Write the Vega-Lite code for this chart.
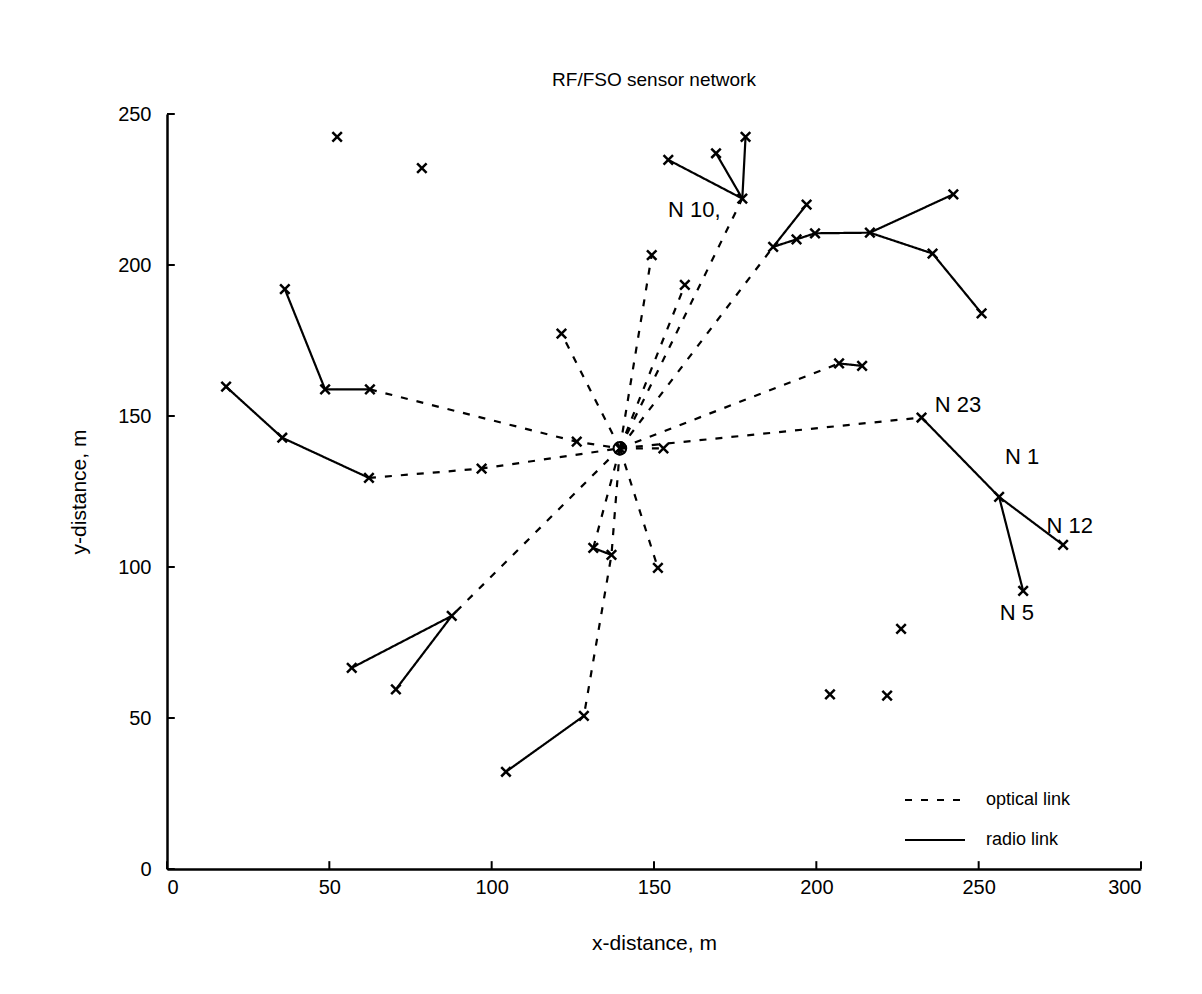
{
  "$schema": "https://vega.github.io/schema/vega-lite/v6.json",
  "width": 974,
  "height": 755,
  "autosize": {"type": "none"},
  "padding": {"left": 167, "top": 114, "right": 61, "bottom": 125},
  "background": "white",
  "title": {"text": "RF/FSO sensor network", "anchor": "middle", "fontSize": 19, "fontWeight": "normal", "color": "black", "offset": 14},
  "config": {
    "view": {"stroke": null},
    "axis": {
      "domainColor": "black", "domainWidth": 2.5, "ticks": false,
      "labelPadding": 10, "labelFontSize": 20, "labelColor": "black", "titleFontSize": 21, "titleFontWeight": "normal", "titleColor": "black", "grid": false
    }
  },
  "datasets": {
    "links": [
      {"s":"r1","t":"radio link","i":0,"x":36.3,"y":192.0},
      {"s":"r1","t":"radio link","i":1,"x":48.7,"y":158.8},
      {"s":"r1","t":"radio link","i":2,"x":62.5,"y":158.8},
      {"s":"r2","t":"radio link","i":0,"x":18.2,"y":159.7},
      {"s":"r2","t":"radio link","i":1,"x":35.5,"y":142.8},
      {"s":"r2","t":"radio link","i":2,"x":62.2,"y":129.5},
      {"s":"r3","t":"radio link","i":0,"x":177.2,"y":222.0},
      {"s":"r3","t":"radio link","i":1,"x":154.4,"y":234.8},
      {"s":"r4","t":"radio link","i":0,"x":177.2,"y":222.0},
      {"s":"r4","t":"radio link","i":1,"x":169.1,"y":237.0},
      {"s":"r5","t":"radio link","i":0,"x":177.2,"y":222.0},
      {"s":"r5","t":"radio link","i":1,"x":178.2,"y":242.4},
      {"s":"r6","t":"radio link","i":0,"x":186.7,"y":206.0},
      {"s":"r6","t":"radio link","i":1,"x":197.0,"y":220.0},
      {"s":"r7","t":"radio link","i":0,"x":186.7,"y":206.0},
      {"s":"r7","t":"radio link","i":1,"x":193.9,"y":208.5},
      {"s":"r7","t":"radio link","i":2,"x":199.6,"y":210.5},
      {"s":"r7","t":"radio link","i":3,"x":216.5,"y":210.7},
      {"s":"r8","t":"radio link","i":0,"x":216.5,"y":210.7},
      {"s":"r8","t":"radio link","i":1,"x":242.2,"y":223.4},
      {"s":"r9","t":"radio link","i":0,"x":216.5,"y":210.7},
      {"s":"r9","t":"radio link","i":1,"x":235.8,"y":203.8},
      {"s":"r9","t":"radio link","i":2,"x":250.9,"y":184.0},
      {"s":"r10","t":"radio link","i":0,"x":207.0,"y":167.4},
      {"s":"r10","t":"radio link","i":1,"x":214.1,"y":166.6},
      {"s":"r11","t":"radio link","i":0,"x":232.4,"y":149.5},
      {"s":"r11","t":"radio link","i":1,"x":256.3,"y":123.2},
      {"s":"r11","t":"radio link","i":2,"x":276.0,"y":107.3},
      {"s":"r12","t":"radio link","i":0,"x":256.3,"y":123.2},
      {"s":"r12","t":"radio link","i":1,"x":263.7,"y":92.1},
      {"s":"r13","t":"radio link","i":0,"x":87.7,"y":83.8},
      {"s":"r13","t":"radio link","i":1,"x":56.9,"y":66.6},
      {"s":"r14","t":"radio link","i":0,"x":87.7,"y":83.8},
      {"s":"r14","t":"radio link","i":1,"x":70.5,"y":59.5},
      {"s":"r15","t":"radio link","i":0,"x":128.4,"y":50.7},
      {"s":"r15","t":"radio link","i":1,"x":104.4,"y":32.2},
      {"s":"r16","t":"radio link","i":0,"x":131.3,"y":106.3},
      {"s":"r16","t":"radio link","i":1,"x":136.9,"y":104.0},
      {"s":"o1","t":"optical link","i":0,"x":62.5,"y":158.8},
      {"s":"o1","t":"optical link","i":1,"x":126.2,"y":141.5},
      {"s":"o1","t":"optical link","i":2,"x":139.5,"y":139.3},
      {"s":"o3","t":"optical link","i":0,"x":62.2,"y":129.5},
      {"s":"o3","t":"optical link","i":1,"x":96.9,"y":132.6},
      {"s":"o3","t":"optical link","i":2,"x":139.5,"y":139.3},
      {"s":"o4","t":"optical link","i":0,"x":139.5,"y":139.3},
      {"s":"o4","t":"optical link","i":1,"x":121.5,"y":177.3},
      {"s":"o5","t":"optical link","i":0,"x":139.5,"y":139.3},
      {"s":"o5","t":"optical link","i":1,"x":149.3,"y":203.3},
      {"s":"o6","t":"optical link","i":0,"x":139.5,"y":139.3},
      {"s":"o6","t":"optical link","i":1,"x":159.5,"y":193.4},
      {"s":"o7","t":"optical link","i":0,"x":139.5,"y":139.3},
      {"s":"o7","t":"optical link","i":1,"x":177.2,"y":222.0},
      {"s":"o8","t":"optical link","i":0,"x":139.5,"y":139.3},
      {"s":"o8","t":"optical link","i":1,"x":186.7,"y":206.0},
      {"s":"o9","t":"optical link","i":0,"x":139.5,"y":139.3},
      {"s":"o9","t":"optical link","i":1,"x":207.0,"y":167.4},
      {"s":"o10","t":"optical link","i":0,"x":139.5,"y":139.3},
      {"s":"o10","t":"optical link","i":1,"x":232.4,"y":149.5},
      {"s":"o11","t":"optical link","i":0,"x":139.5,"y":139.3},
      {"s":"o11","t":"optical link","i":1,"x":152.9,"y":139.3},
      {"s":"o12","t":"optical link","i":0,"x":139.5,"y":139.3},
      {"s":"o12","t":"optical link","i":1,"x":151.2,"y":99.7},
      {"s":"o13","t":"optical link","i":0,"x":139.5,"y":139.3},
      {"s":"o13","t":"optical link","i":1,"x":131.3,"y":106.3},
      {"s":"o14","t":"optical link","i":0,"x":139.5,"y":139.3},
      {"s":"o14","t":"optical link","i":1,"x":136.9,"y":104.0},
      {"s":"o14","t":"optical link","i":2,"x":128.4,"y":50.7},
      {"s":"o15","t":"optical link","i":0,"x":139.5,"y":139.3},
      {"s":"o15","t":"optical link","i":1,"x":87.7,"y":83.8}
    ],
    "nodes": [
      {"x":52.4,"y":242.4},{"x":78.5,"y":232.1},{"x":226.1,"y":79.5},{"x":204.2,"y":57.8},{"x":221.8,"y":57.4},
      {"x":36.3,"y":192.0},{"x":48.7,"y":158.8},{"x":62.5,"y":158.8},{"x":18.2,"y":159.7},{"x":35.5,"y":142.8},{"x":62.2,"y":129.5},{"x":96.9,"y":132.6},
      {"x":121.5,"y":177.3},{"x":126.2,"y":141.5},{"x":139.5,"y":139.3},{"x":152.9,"y":139.3},{"x":131.3,"y":106.3},{"x":136.9,"y":104.0},{"x":151.2,"y":99.7},{"x":149.3,"y":203.3},{"x":159.5,"y":193.4},
      {"x":154.4,"y":234.8},{"x":169.1,"y":237.0},{"x":178.2,"y":242.4},{"x":177.2,"y":222.0},
      {"x":186.7,"y":206.0},{"x":197.0,"y":220.0},{"x":193.9,"y":208.5},{"x":199.6,"y":210.5},{"x":216.5,"y":210.7},{"x":242.2,"y":223.4},{"x":235.8,"y":203.8},{"x":250.9,"y":184.0},
      {"x":207.0,"y":167.4},{"x":214.1,"y":166.6},
      {"x":232.4,"y":149.5},{"x":256.3,"y":123.2},{"x":276.0,"y":107.3},{"x":263.7,"y":92.1},
      {"x":87.7,"y":83.8},{"x":56.9,"y":66.6},{"x":70.5,"y":59.5},{"x":128.4,"y":50.7},{"x":104.4,"y":32.2}
    ],
    "hub": [{"x":139.5,"y":139.3}],
    "labels": [
      {"x":154.3,"y":218.2,"label":"N 10,"},
      {"x":236.5,"y":153.6,"label":"N 23"},
      {"x":258.1,"y":136.3,"label":"N 1"},
      {"x":270.9,"y":113.5,"label":"N 12"},
      {"x":256.5,"y":84.8,"label":"N 5"}
    ],
    "xticks": [{"v":0},{"v":50},{"v":100},{"v":150},{"v":200},{"v":250},{"v":300}],
    "yticks": [{"v":0},{"v":50},{"v":100},{"v":150},{"v":200},{"v":250}]
  },
  "layer": [
    {
      "data": {"name": "links"},
      "mark": {"type": "line", "color": "black", "strokeWidth": 2.2},
      "encoding": {
        "x": {"field": "x", "type": "quantitative", "scale": {"domain": [0, 300], "nice": false}, "axis": {"values": [0,50,100,150,200,250,300], "title": "x-distance, m", "titlePadding": 35, "labelPadding": 8}},
        "y": {"field": "y", "type": "quantitative", "scale": {"domain": [0, 250], "nice": false}, "axis": {"values": [0,50,100,150,200,250], "title": "y-distance, m", "titlePadding": 28, "labelPadding": 16}},
        "detail": {"field": "s"},
        "order": {"field": "i", "type": "quantitative"},
        "strokeDash": {"field": "t", "type": "nominal", "scale": {"domain": ["optical link", "radio link"], "range": [[7, 9], [1, 0]]},
          "legend": {"title": null, "orient": "none", "legendX": 737, "legendY": 655, "labelFontSize": 18, "labelColor": "black", "symbolStrokeColor": "black", "symbolStrokeWidth": 2, "symbolSize": 3600, "symbolType": "stroke", "rowPadding": -22, "labelOffset": 20}}
      }
    },
    {
      "data": {"name": "xticks"},
      "mark": {"type": "rule", "color": "black", "strokeWidth": 2},
      "encoding": {"x": {"field": "v", "type": "quantitative"}, "y": {"datum": 0}, "y2": {"datum": 2.6}}
    },
    {
      "data": {"name": "yticks"},
      "mark": {"type": "rule", "color": "black", "strokeWidth": 2},
      "encoding": {"y": {"field": "v", "type": "quantitative"}, "x": {"datum": 0}, "x2": {"datum": 2.4}}
    },
    {
      "data": {"name": "nodes"},
      "mark": {"type": "point", "shape": "M-1,-1L1,1M-1,1L1,-1", "filled": false, "stroke": "black", "strokeWidth": 2.5, "size": 90, "opacity": 1},
      "encoding": {"x": {"field": "x", "type": "quantitative"}, "y": {"field": "y", "type": "quantitative"}}
    },
    {
      "data": {"name": "hub"},
      "mark": {"type": "point", "shape": "circle", "filled": false, "stroke": "black", "strokeWidth": 2, "size": 160, "opacity": 1},
      "encoding": {"x": {"field": "x", "type": "quantitative"}, "y": {"field": "y", "type": "quantitative"}}
    },
    {
      "data": {"name": "labels"},
      "mark": {"type": "text", "align": "left", "baseline": "middle", "fontSize": 22, "color": "black"},
      "encoding": {"x": {"field": "x", "type": "quantitative"}, "y": {"field": "y", "type": "quantitative"}, "text": {"field": "label"}}
    }
  ]
}
